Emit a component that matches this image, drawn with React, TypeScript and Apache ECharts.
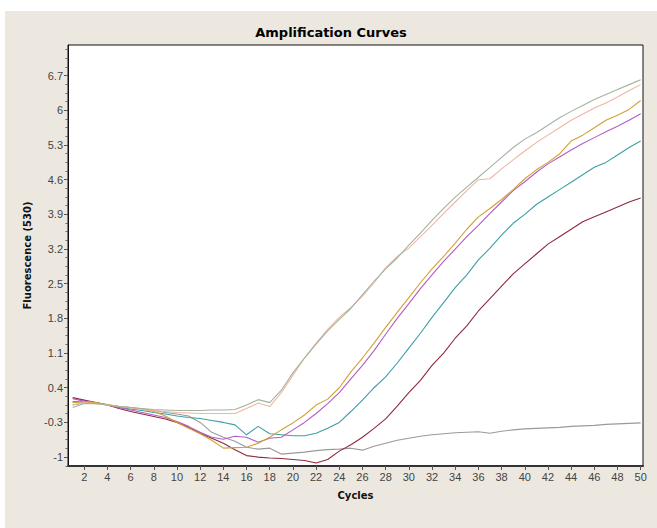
import React, { useEffect, useRef } from "react";
import * as echarts from "echarts";

const cycles = [1, 2, 3, 4, 5, 6, 7, 8, 9, 10, 11, 12, 13, 14, 15, 16, 17, 18, 19, 20, 21, 22, 23, 24, 25, 26, 27, 28, 29, 30, 31, 32, 33, 34, 35, 36, 37, 38, 39, 40, 41, 42, 43, 44, 45, 46, 47, 48, 49, 50];

const xTickValues = [2, 4, 6, 8, 10, 12, 14, 16, 18, 20, 22, 24, 26, 28, 30, 32, 34, 36, 38, 40, 42, 44, 46, 48, 50];
const yTickValues = [-1, -0.3, 0.4, 1.1, 1.8, 2.5, 3.2, 3.9, 4.6, 5.3, 6, 6.7];

const greyGreen = [0.0, 0.08, 0.08, 0.05, 0.02, 0.0, -0.02, -0.04, -0.05, -0.06, -0.06, -0.06, -0.05, -0.05, -0.04, 0.05, 0.16, 0.1, 0.35, 0.7, 1.0, 1.28, 1.55, 1.78, 2.0, 2.28, 2.55, 2.8, 3.02, 3.28, 3.52, 3.78, 4.02, 4.25, 4.45, 4.65, 4.85, 5.05, 5.25, 5.42, 5.55, 5.7, 5.85, 5.98, 6.1, 6.22, 6.32, 6.42, 6.52, 6.62];
const salmon = [0.05, 0.1, 0.08, 0.05, 0.02, -0.01, -0.04, -0.06, -0.08, -0.1, -0.11, -0.12, -0.12, -0.12, -0.12, -0.02, 0.09, 0.02, 0.3, 0.65, 1.0, 1.3, 1.58, 1.82, 2.02, 2.25, 2.52, 2.82, 3.05, 3.22, 3.45, 3.68, 3.92, 4.15, 4.38, 4.6, 4.62, 4.82, 5.0, 5.18, 5.35, 5.5, 5.65, 5.8, 5.92, 6.05, 6.15, 6.27, 6.4, 6.52];
const gold = [0.1, 0.12, 0.1, 0.06, 0.02, 0.0, -0.03, -0.08, -0.17, -0.3, -0.42, -0.53, -0.66, -0.82, -0.81, -0.8, -0.72, -0.6, -0.45, -0.31, -0.15, 0.05, 0.17, 0.4, 0.72, 1.0, 1.3, 1.62, 1.92, 2.22, 2.52, 2.8, 3.05, 3.32, 3.6, 3.85, 4.02, 4.2, 4.4, 4.62, 4.8, 4.95, 5.12, 5.38, 5.5, 5.65, 5.8, 5.9, 6.02, 6.2];
const purple = [0.18, 0.13, 0.1, 0.05, 0.0, -0.05, -0.1, -0.15, -0.2, -0.28, -0.38, -0.5, -0.6, -0.64, -0.58, -0.6, -0.7, -0.62, -0.6, -0.45, -0.3, -0.12, 0.08, 0.3, 0.58, 0.85, 1.15, 1.48, 1.8, 2.1, 2.4, 2.68, 2.95, 3.2, 3.45, 3.68, 3.92, 4.15, 4.38, 4.56, 4.75, 4.92, 5.06, 5.2, 5.33, 5.45, 5.57, 5.68, 5.8, 5.93];
const teal = [0.12, 0.12, 0.1, 0.05, 0.0, -0.03, -0.06, -0.1, -0.13, -0.17, -0.2, -0.22, -0.26, -0.3, -0.35, -0.55, -0.38, -0.53, -0.55, -0.57, -0.57, -0.52, -0.42, -0.3, -0.08, 0.15, 0.4, 0.62, 0.9, 1.2, 1.5, 1.82, 2.12, 2.42, 2.68, 2.98, 3.22, 3.48, 3.72, 3.9, 4.1, 4.25, 4.4, 4.55, 4.7, 4.85, 4.95, 5.1, 5.25, 5.38];
const maroon = [0.2, 0.15, 0.1, 0.05, -0.02, -0.08, -0.13, -0.18, -0.23, -0.3, -0.4, -0.52, -0.62, -0.72, -0.85, -0.97, -1.0, -1.02, -1.03, -1.05, -1.07, -1.12, -1.05, -0.88, -0.75, -0.6, -0.42, -0.23, 0.03, 0.3, 0.55, 0.85, 1.1, 1.4, 1.65, 1.95, 2.2, 2.45, 2.7, 2.9, 3.1, 3.3, 3.45, 3.6, 3.75, 3.85, 3.95, 4.05, 4.15, 4.23];
const grey = [0.05, 0.1, 0.1, 0.05, 0.02, 0.0, -0.03, -0.06, -0.1, -0.13, -0.17, -0.3, -0.5, -0.6, -0.68, -0.8, -0.84, -0.82, -0.94, -0.92, -0.9, -0.87, -0.85, -0.84, -0.82, -0.86, -0.78, -0.72, -0.66, -0.62, -0.58, -0.55, -0.53, -0.51, -0.5, -0.49, -0.52, -0.48, -0.45, -0.43, -0.42, -0.41, -0.4, -0.38, -0.37, -0.36, -0.34, -0.33, -0.32, -0.31];

const curves = [
  { name: "Grey", color: "#9a9a9a", values: grey },
  { name: "Maroon", color: "#8e2a3c", values: maroon },
  { name: "Teal", color: "#3c9fa6", values: teal },
  { name: "Purple", color: "#b35cc6", values: purple },
  { name: "Gold", color: "#d2a136", values: gold },
  { name: "Salmon", color: "#efb6a2", values: salmon },
  { name: "GreyGreen", color: "#a3b3a2", values: greyGreen },
];

const X_MIN = 0.6;
const X_MAX = 50.2;
const Y_MIN = -1.18;
const Y_MAX = 7.32;
const FONT = "'Liberation Sans', Arial, sans-serif";
const BOLD_FONT = "'DejaVu Sans', Verdana, sans-serif";

function minorTicks(major: number[]): number[] {
  const out: number[] = [];
  const step = (major[1] - major[0]) / 4;
  for (let v = major[0] - step; v > Y_MIN; v -= step) out.push(+v.toFixed(4));
  for (let i = 0; i < major.length; i++) {
    const next = i + 1 < major.length ? major[i + 1] : Infinity;
    for (let k = 1; k < 4; k++) {
      const v = major[i] + k * step;
      if (v < next && v < Y_MAX) out.push(+v.toFixed(4));
    }
  }
  return out;
}

export default function App() {
  const ref = useRef<HTMLDivElement>(null);
  useEffect(() => {
    if (!ref.current) return;
    const chart = echarts.init(ref.current, undefined, { renderer: "svg" });
    const option: any = {
      animation: false,
      title: {
        text: "Amplification Curves",
        left: "center",
        top: 10,
        textStyle: { fontFamily: BOLD_FONT, fontWeight: "bold", fontSize: 13, color: "#000" },
      },
      grid: {
        left: 63,
        top: 34,
        width: 575,
        height: 421,
        show: true,
        backgroundColor: "#ffffff",
        borderColor: "#111",
        borderWidth: 1,
      },
      xAxis: {
        type: "value",
        min: X_MIN,
        max: X_MAX,
        name: "Cycles",
        nameLocation: "middle",
        nameGap: 24,
        nameTextStyle: { fontFamily: BOLD_FONT, fontWeight: "bold", fontSize: 10, color: "#111" },
        axisLine: { show: true, onZero: false, lineStyle: { color: "#333", width: 2 } },
        axisTick: { show: true, customValues: xTickValues, length: 4, lineStyle: { color: "#555" } },
        axisLabel: { customValues: xTickValues, fontFamily: FONT, fontSize: 11, color: "#444", margin: 5 },
        splitLine: { show: false },
      },
      yAxis: [
        {
          type: "value",
          min: Y_MIN,
          max: Y_MAX,
          name: "Fluorescence (530)",
          nameLocation: "middle",
          nameGap: 36,
          nameTextStyle: { fontFamily: BOLD_FONT, fontWeight: "bold", fontSize: 10, color: "#111" },
          axisLine: { show: true, onZero: false, lineStyle: { color: "#111", width: 1 } },
          axisTick: { show: true, customValues: yTickValues, length: 4, lineStyle: { color: "#555" } },
          axisLabel: { customValues: yTickValues, fontFamily: FONT, fontSize: 11, color: "#444", margin: 5 },
          splitLine: { show: false },
        },
        {
          type: "value",
          min: Y_MIN,
          max: Y_MAX,
          position: "left",
          axisLine: { show: false },
          axisTick: { show: true, customValues: minorTicks(yTickValues), length: 2.5, lineStyle: { color: "#666" } },
          axisLabel: { show: false },
          splitLine: { show: false },
        },
      ],
      series: curves.map((c) => ({
        name: c.name,
        type: "line",
        yAxisIndex: 0,
        showSymbol: false,
        symbol: "none",
        lineStyle: { color: c.color, width: 1.1 },
        itemStyle: { color: c.color },
        data: cycles.map((x, i) => [x, c.values[i]]),
      })),
    };
    chart.setOption(option);
    return () => chart.dispose();
  }, []);

  return (
    <div style={{ position: "absolute", left: 0, top: 0, width: 657, height: 528, background: "#ffffff" }}>
      <div
        ref={ref}
        style={{ position: "absolute", left: 5, top: 11, width: 652, height: 517, background: "#ede8df" }}
      />
    </div>
  );
}
